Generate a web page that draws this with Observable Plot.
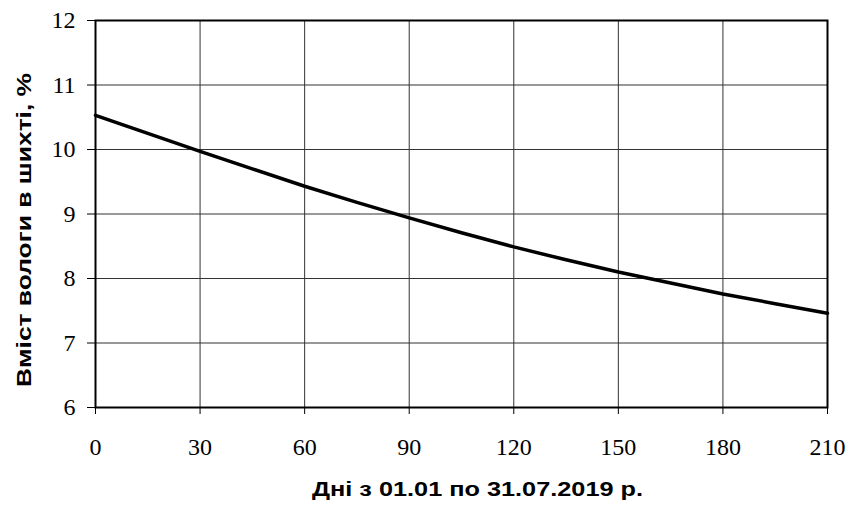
<!DOCTYPE html>
<html>
<head>
<meta charset="utf-8">
<script src="https://cdn.jsdelivr.net/npm/d3@7"></script>
<script src="https://cdn.jsdelivr.net/npm/@observablehq/plot@0.6"></script>
<style>
  html, body { margin: 0; padding: 0; background: #fff; }
  #chart { width: 848px; height: 507px; }
</style>
</head>
<body>
<div id="chart"></div>
<script>
const days = [0, 15, 30, 45, 60, 75, 90, 105, 120, 135, 150, 165, 180, 195, 210];
const moisture = [10.53, 10.25, 9.97, 9.70, 9.43, 9.18, 8.94, 8.71, 8.49, 8.29, 8.10, 7.93, 7.76, 7.61, 7.46];
const xTicks = [0, 30, 60, 90, 120, 150, 180, 210];
const yTicks = [6, 7, 8, 9, 10, 11, 12];
const xTitle = "Дні з 01.01 по 31.07.2019 р.";
const yTitle = "Вміст вологи в шихті, %";

const data = days.map((d, i) => ({day: d, value: moisture[i]}));

const chart = Plot.plot({
  width: 848,
  height: 507,
  marginLeft: 95,
  marginRight: 21,
  marginTop: 20,
  marginBottom: 100,
  style: {fontFamily: "'Liberation Serif', 'Times New Roman', serif", fontSize: "24px", color: "#000", background: "#fff"},
  x: {domain: [0, 210], ticks: xTicks},
  y: {domain: [6, 12], ticks: yTicks},
  marks: [
    Plot.gridX(xTicks, {stroke: "#333", strokeOpacity: 1, strokeWidth: 1}),
    Plot.gridY(yTicks, {stroke: "#333", strokeOpacity: 1, strokeWidth: 1}),
    Plot.axisX(xTicks, {tickSize: 7, tickPadding: 23, label: null, fontSize: 24, strokeWidth: 1, tickFormat: d => String(d)}),
    Plot.axisY(yTicks, {tickSize: 8, tickPadding: 12, label: null, fontSize: 24, strokeWidth: 1, tickFormat: d => String(d)}),
    Plot.frame({stroke: "#000", strokeWidth: 2}),
    Plot.line(data, {x: "day", y: "value", stroke: "#000", strokeWidth: 3.5, curve: "linear"}),
    Plot.text([xTitle], {className: "xtitle", frameAnchor: "bottom", dx: 16, dy: 88, fontFamily: "'Liberation Sans', Arial, sans-serif", fontWeight: "bold", fontSize: 20, fill: "#000"}),
    Plot.text([yTitle], {className: "ytitle", frameAnchor: "left", textAnchor: "middle", lineAnchor: "middle", dx: -71, dy: 16, rotate: -90, fontFamily: "'Liberation Sans', Arial, sans-serif", fontWeight: "bold", fontSize: 20, fill: "#000"})
  ]
});
d3.select(chart).selectAll(".xtitle text").attr("textLength", 331).attr("lengthAdjust", "spacingAndGlyphs");
d3.select(chart).selectAll(".ytitle text").attr("textLength", 314).attr("lengthAdjust", "spacingAndGlyphs");
document.getElementById("chart").append(chart);
</script>
</body>
</html>
